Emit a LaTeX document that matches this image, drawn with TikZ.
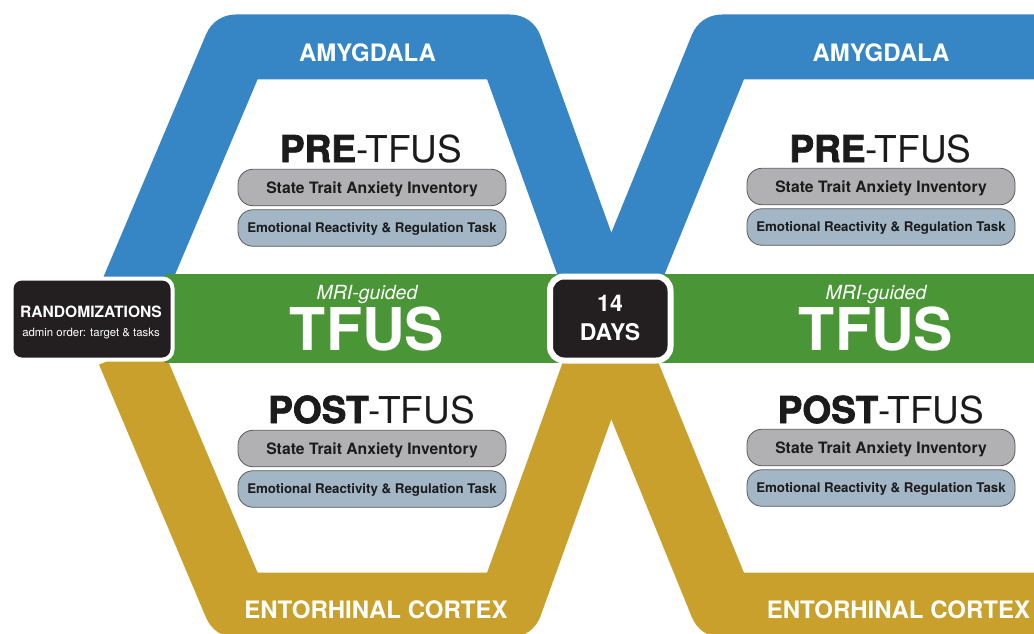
\documentclass[tikz,border=0pt]{standalone}
\usepackage{fontspec}
\setmainfont{TeX Gyre Heros}
\newfontfamily\heavyfont{TeX Gyre Heros}[BoldFeatures={FakeBold=2}]
\definecolor{cblue}{HTML}{3686C6}
\definecolor{cgreen}{HTML}{4A9637}
\definecolor{cgold}{HTML}{C9A02C}
\definecolor{cdark}{HTML}{231F20}
\definecolor{cpillgray}{HTML}{B1B1B3}
\definecolor{cpillblue}{HTML}{A3B6C5}
\definecolor{ctext}{HTML}{1B1B1B}
\begin{document}
\begin{tikzpicture}[x=1pt,y=-1pt,
  band/.style={line width=65pt, line join=round},
  pill/.style={draw=black!65, line width=0.8pt, rounded corners=15pt, minimum width=268pt, minimum height=36.5pt, inner sep=0pt},
  pillA/.style={pill, fill=cpillgray},
  pillB/.style={pill, fill=cpillblue},
  pilltxtA/.style={anchor=base, inner sep=0pt, text=ctext, font=\bfseries\fontsize{15.7pt}{16pt}\selectfont},
  pilltxtB/.style={anchor=base, inner sep=0pt, text=ctext, font=\bfseries\fontsize{13.3pt}{14pt}\selectfont},
  region/.style={anchor=base, inner sep=0pt, text=white, font=\bfseries\fontsize{24pt}{26pt}\selectfont},
  phase/.style={anchor=base, inner sep=0pt, text=ctext, font=\fontsize{37pt}{38pt}\selectfont},
  mri/.style={anchor=base, inner sep=0pt, text=white, font=\itshape\fontsize{19.5pt}{20pt}\selectfont},
  tfus/.style={anchor=base, inner sep=0pt, text=white, font=\bfseries\fontsize{59pt}{60pt}\selectfont},
  darkbox/.style={fill=cdark, draw=white, inner sep=0pt}
]
\useasboundingbox (0,0) rectangle (1034,634);
\clip (0,0) rectangle (1034,634);
\fill[white] (0,0) rectangle (1034,634);

% bands
\draw[band,cblue] (129,300)--(236,47)--(510,47)--(601,300);
\draw[band,cblue] (619,300)--(722,47)--(1120,47);
\draw[band,cgold] (129,352)--(236,605)--(510,605)--(601,352);
\draw[band,cgold] (619,352)--(722,605)--(1120,605);

% green band
\fill[cgreen] (165,274) rectangle (1034,363);

% randomization box
\node[darkbox, line width=4pt, rounded corners=10pt, minimum width=161pt, minimum height=81pt] (rand) at (92,319) {};
\node[anchor=base, inner sep=0pt, text=white, font=\bfseries\fontsize{15.6pt}{16pt}\selectfont] (randt) at (91,317) {RANDOMIZATIONS};
\node[anchor=base, inner sep=0pt, text=white, font=\fontsize{11.4pt}{12pt}\selectfont] (rands) at (91,336) {admin order: target \& tasks};

% 14 days box
\node[darkbox, line width=6pt, rounded corners=14pt, minimum width=120.5pt, minimum height=84pt] (days) at (610.25,318.5) {};
\node[anchor=base, inner sep=0pt, text=white, font=\bfseries\fontsize{23pt}{24pt}\selectfont] (dayn) at (610,311.5) {14};
\node[anchor=base, inner sep=0pt, text=white, font=\bfseries\fontsize{23pt}{24pt}\selectfont] (dayt) at (610,340) {DAYS};

% region labels
\node[region] (amy1) at (367.5,61.5) {AMYGDALA};
\node[region] (amy2) at (881,61.5) {AMYGDALA};
\node[region] (ent1) at (376,618) {ENTORHINAL CORTEX};
\node[region] (ent2) at (898.5,618) {ENTORHINAL CORTEX};

% TFUS in green
\node[mri] (mri1) at (367,299) {MRI-guided};
\node[mri] (mri2) at (876,299) {MRI-guided};
\node[tfus] (tf1) at (367,350) {TFUS};
\node[tfus] (tf2) at (876,350) {TFUS};

% pre / post headings
\node[phase] (pre1) at (371,162) {{\heavyfont\bfseries PRE}-TFUS};
\node[phase] (pre2) at (880.5,162) {{\heavyfont\bfseries PRE}-TFUS};
\node[phase] (post1) at (371.5,423) {{\heavyfont\bfseries POST}-TFUS};
\node[phase] (post2) at (881,423) {{\heavyfont\bfseries POST}-TFUS};

% pills
\node[pillA] (p1a) at (372,187.5) {};
\node[pillB] (p1b) at (372,228) {};
\node[pillA] (p2a) at (881,186.5) {};
\node[pillB] (p2b) at (881,227) {};
\node[pillA] (p3a) at (372,448.5) {};
\node[pillB] (p3b) at (372,489) {};
\node[pillA] (p4a) at (881,447.5) {};
\node[pillB] (p4b) at (881,488) {};

\node[pilltxtA] at ([yshift=-5.6pt]p1a.center) {State Trait Anxiety Inventory};
\node[pilltxtB] at ([yshift=-4.8pt]p1b.center) {Emotional Reactivity \& Regulation Task};
\node[pilltxtA] at ([yshift=-5.6pt]p2a.center) {State Trait Anxiety Inventory};
\node[pilltxtB] at ([yshift=-4.8pt]p2b.center) {Emotional Reactivity \& Regulation Task};
\node[pilltxtA] at ([yshift=-5.6pt]p3a.center) {State Trait Anxiety Inventory};
\node[pilltxtB] at ([yshift=-4.8pt]p3b.center) {Emotional Reactivity \& Regulation Task};
\node[pilltxtA] at ([yshift=-5.6pt]p4a.center) {State Trait Anxiety Inventory};
\node[pilltxtB] at ([yshift=-4.8pt]p4b.center) {Emotional Reactivity \& Regulation Task};
\end{tikzpicture}
\end{document}
